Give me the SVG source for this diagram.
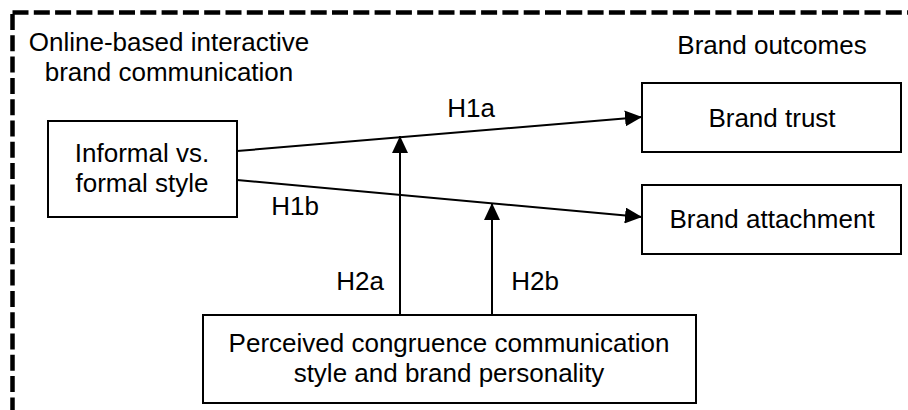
<svg xmlns="http://www.w3.org/2000/svg" width="908" height="410" viewBox="0 0 908 410">
<style>
text{font-family:"Liberation Sans",Arial,sans-serif;font-size:26px;fill:#000;text-anchor:middle}
.box{fill:#fff;stroke:#000;stroke-width:2}
.ln{stroke:#000;stroke-width:2;fill:none}
.frame{fill:none;stroke:#000;stroke-width:4.5;stroke-dasharray:16 5.3;stroke-linejoin:round}
</style>
<defs>
<marker id="ah" markerWidth="17" markerHeight="16" refX="17" refY="8" orient="auto" markerUnits="userSpaceOnUse">
<path d="M0,0 L17,8 L0,16 Z" fill="#000"/>
</marker>
</defs>
<rect class="frame" x="12.5" y="12.5" width="920" height="420"/>
<g id="labels">
<text x="169" y="51">Online-based interactive</text>
<text x="169" y="81">brand communication</text>
<text x="772" y="54">Brand outcomes</text>
</g>
<g id="connectors">
<line class="ln" x1="237" y1="151" x2="642" y2="117" marker-end="url(#ah)"/>
<line class="ln" x1="237" y1="180" x2="642" y2="217" marker-end="url(#ah)"/>
<line class="ln" x1="400" y1="315" x2="400" y2="136" marker-end="url(#ah)"/>
<line class="ln" x1="492" y1="315" x2="492" y2="203" marker-end="url(#ah)"/>
<text x="471" y="117">H1a</text>
<text x="295" y="215">H1b</text>
<text x="360" y="290">H2a</text>
<text x="535" y="290">H2b</text>
</g>
<g id="informal">
<rect class="box" x="48" y="121" width="189" height="96"/>
<text x="142" y="162">Informal vs.</text>
<text x="142" y="192">formal style</text>
</g>
<g id="trust">
<rect class="box" x="642" y="83" width="259" height="69"/>
<text x="772" y="127">Brand trust</text>
</g>
<g id="attachment">
<rect class="box" x="642" y="185" width="259" height="69"/>
<text x="772" y="228">Brand attachment</text>
</g>
<g id="congruence">
<rect class="box" x="203" y="315" width="493" height="88"/>
<text x="449" y="352">Perceived congruence communication</text>
<text x="449" y="382">style and brand personality</text>
</g>
</svg>
